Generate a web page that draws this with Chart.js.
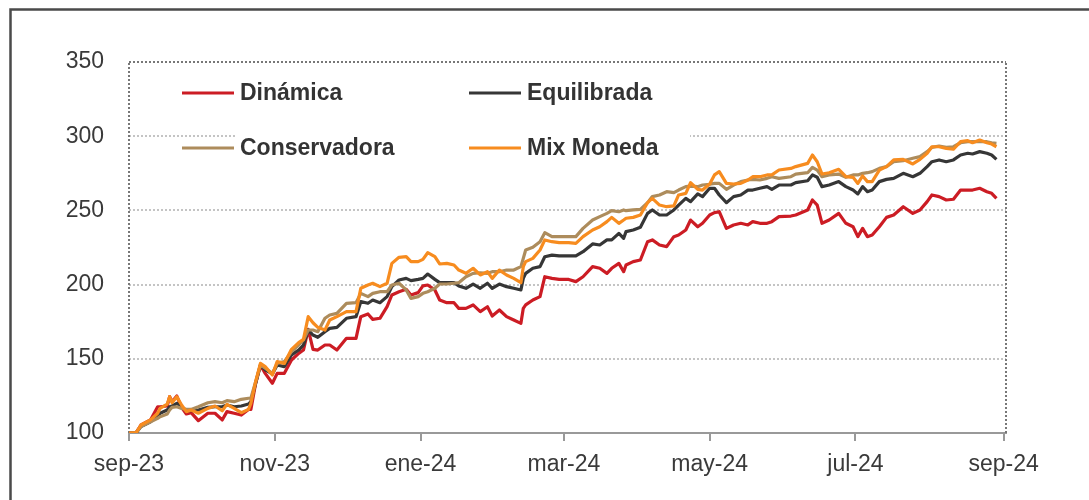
<!DOCTYPE html>
<html>
<head>
<meta charset="utf-8">
<script src="https://cdn.jsdelivr.net/npm/chart.js@4.4.1/dist/chart.umd.min.js"></script>
<style>
  html, body { margin: 0; padding: 0; background: #fff; }
  canvas { display: block; }
</style>
</head>
<body>
<canvas id="chart" width="1089" height="500"></canvas>
<script>
/* Rentabilidad acumulada por estrategia, base 100 = sep-23 */

// días desde el 1-sep-2023
const days = [
  0, 3, 5, 9, 12, 13, 16, 17, 18, 20, 22, 24, 26, 29, 33, 36, 39, 41, 44, 47, 50, 51, 53, 55, 57, 60, 62, 65, 68, 71, 73, 75, 77, 79, 82, 84, 87,
  91, 95, 97, 100, 102, 105, 108, 110, 113, 116, 118, 121, 123, 125, 128, 130, 133, 136, 138, 141, 144, 147, 150, 152, 155, 158, 161, 164, 165, 166, 169, 172, 174, 177,
  180, 184, 187, 190, 194, 197, 200, 202, 205, 207, 208, 211, 214, 217, 219, 222, 225, 228, 230, 233, 235, 238, 240, 243, 245, 247, 250, 253, 256, 259, 261, 264, 267, 269,
  272, 277, 279, 284, 286, 288, 290, 293, 297, 300, 303, 305, 307, 309, 311, 314, 317, 320, 324, 328, 331, 334, 336, 339, 342, 345, 348, 351, 353, 356, 359, 361, 363
];

const dinamica = [
  100, 100.2, 105.4, 108.8, 117.7, 117.7, 118.2, 124.5, 121.1, 124.9, 117.3, 112.8, 113.7, 108.3, 113.3, 113.3, 108.8, 114.4, 113.3, 112.1, 115.9, 115.9, 133.5, 145.8, 140.2, 133.5, 140.2, 140.2, 149.2, 153.7, 155.9, 169.9, 156.4, 155.9, 159.3, 159.3, 155.9,
  163.8, 163.8, 178.4, 180.2, 176.6, 177.3, 185.1, 193.0, 195.2, 196.8, 193.0, 194.6, 199.1, 199.7, 196.4, 189.6, 187.8, 187.8, 184.0, 184.0, 186.3, 181.8, 185.1, 178.8, 182.9, 178.4, 176.1, 173.9, 184.0, 186.3, 189.6, 191.9, 205.3, 204.2,
  203.5, 203.5, 202.0, 205.3, 212.1, 211.0, 207.6, 211.0, 214.3, 208.7, 213.2, 215.5, 216.6, 228.9, 230.1, 226.7, 225.6, 232.3, 233.4, 236.8, 243.5, 239.0, 241.3, 246.9, 248.5, 249.1, 237.9, 240.2, 241.3, 240.2, 242.4, 241.3, 241.3, 242.4,
  245.8, 246.2, 246.9, 250.3, 257.0, 253.6, 241.3, 243.5, 248.0, 241.3, 239.0, 232.3, 237.9, 232.3, 233.4, 239.0, 245.3, 246.9, 252.5, 248.0, 250.3, 255.9, 260.4, 259.3, 257.0, 257.5, 263.7, 263.7, 263.7, 264.9, 262.6, 261.5, 258.1
];

const equilibrada = [
  100, 100.2, 104.3, 107.6, 111.0, 113.3, 115.5, 117.7, 118.2, 120.0, 117.7, 115.0, 115.0, 115.5, 117.3, 117.7, 117.7, 118.9, 117.7, 118.2, 119.5, 121.1, 133.5, 145.8, 142.5, 139.8, 145.8, 144.7, 152.6, 155.9, 159.3, 169.4, 166.0, 164.5, 168.3, 170.5, 171.2,
  177.3, 178.4, 188.5, 187.4, 189.6, 187.8, 191.9, 198.6, 203.1, 204.2, 202.7, 203.5, 204.2, 207.1, 203.5, 201.3, 201.3, 201.3, 199.1, 197.5, 200.4, 197.5, 200.9, 197.5, 200.4, 198.6, 197.5, 196.4, 204.2, 207.6, 211.0, 212.1, 218.8, 219.9,
  219.3, 219.3, 219.3, 222.2, 227.4, 226.7, 230.1, 230.1, 234.5, 231.2, 235.7, 236.8, 238.6, 248.0, 250.3, 246.9, 246.9, 250.3, 253.6, 258.1, 255.9, 261.1, 259.3, 264.9, 264.9, 260.4, 255.2, 259.3, 260.4, 263.7, 263.7, 264.9, 266.0, 264.2,
  267.1, 267.1, 268.7, 270.0, 273.9, 272.3, 266.0, 267.1, 269.4, 266.0, 263.7, 261.1, 266.0, 262.6, 263.7, 269.4, 270.9, 271.6, 275.0, 272.7, 275.0, 279.5, 282.8, 284.0, 282.8, 284.0, 287.3, 288.5, 288.0, 289.6, 288.5, 287.3, 284.4
];

const conservadora = [
  100, 100.2, 104.3, 107.6, 109.9, 111.0, 112.8, 115.5, 117.3, 117.7, 116.6, 115.9, 115.9, 117.7, 120.4, 121.1, 120.4, 121.8, 121.1, 122.7, 123.4, 123.4, 134.6, 145.8, 143.6, 140.2, 146.9, 148.1, 154.8, 159.3, 162.7, 169.4, 169.4, 168.3, 177.3, 179.5, 180.6,
  187.4, 187.8, 194.1, 191.9, 194.1, 195.2, 195.2, 199.7, 200.9, 196.4, 190.7, 191.9, 194.1, 195.2, 197.5, 200.4, 200.4, 200.9, 201.3, 205.3, 207.6, 208.0, 207.6, 208.7, 208.7, 209.8, 209.8, 212.1, 217.7, 223.3, 225.1, 228.9, 235.0, 232.3,
  232.3, 232.3, 232.3, 237.9, 243.5, 245.8, 248.0, 249.8, 249.1, 250.3, 249.8, 250.3, 250.7, 255.2, 259.3, 260.4, 262.6, 262.0, 263.7, 266.0, 266.4, 266.0, 267.1, 267.6, 268.2, 268.2, 264.2, 267.1, 269.4, 270.5, 270.9, 270.5, 271.6, 272.7,
  271.6, 272.7, 274.5, 275.4, 279.0, 277.2, 272.7, 273.9, 274.5, 272.3, 273.9, 273.9, 275.0, 275.4, 276.1, 278.3, 279.5, 282.8, 283.5, 285.1, 286.2, 289.6, 292.5, 293.4, 292.5, 292.9, 295.6, 296.3, 296.3, 296.3, 296.3, 295.6, 295.2
];

const mixMoneda = [
  100, 100.2, 105.4, 108.8, 113.3, 116.6, 119.5, 124.5, 120.4, 124.5, 118.9, 114.4, 115.5, 113.3, 116.6, 118.2, 115.0, 119.3, 116.6, 113.7, 115.9, 120.0, 134.6, 146.9, 144.7, 139.1, 148.1, 146.9, 156.4, 160.9, 163.1, 178.4, 174.3, 171.2, 169.4, 176.1, 178.4,
  181.8, 181.8, 197.5, 199.7, 200.9, 198.6, 200.9, 214.3, 218.4, 218.8, 215.5, 215.5, 217.0, 221.5, 218.8, 213.9, 214.3, 213.2, 209.8, 207.6, 211.0, 206.5, 208.7, 204.2, 209.8, 206.5, 204.2, 201.3, 212.1, 215.5, 217.7, 223.3, 230.1, 228.9,
  228.3, 228.3, 227.8, 232.3, 236.8, 239.0, 242.4, 245.3, 241.3, 243.5, 244.7, 245.3, 246.9, 255.2, 258.1, 253.6, 252.5, 253.0, 260.4, 261.5, 268.7, 264.2, 263.7, 267.8, 273.9, 276.1, 268.2, 267.8, 268.2, 270.5, 272.7, 272.7, 273.9, 273.9,
  277.2, 278.3, 279.5, 281.7, 287.3, 282.8, 274.5, 275.4, 277.7, 272.7, 272.3, 268.2, 273.2, 269.4, 269.4, 277.2, 279.5, 284.0, 284.4, 281.3, 284.4, 288.5, 292.9, 292.9, 291.8, 291.2, 296.3, 297.0, 295.6, 297.4, 295.6, 294.7, 292.9
];

const tickDays = [0, 61, 122, 182, 243, 304, 366];
const tickLabels = ["sep-23", "nov-23", "ene-24", "mar-24", "may-24", "jul-24", "sep-24"];

const SERIES = [
  { label: "Dinámica", data: dinamica, color: "#cc1c24", order: 3 },
  { label: "Equilibrada", data: equilibrada, color: "#363636", order: 2 },
  { label: "Conservadora", data: conservadora, color: "#ad8c5c", order: 1 },
  { label: "Mix Moneda", data: mixMoneda, color: "#f78c1f", order: 0 },
];

const FONT = "'Liberation Sans', Arial, sans-serif";
const TEXT = "#3a3a3a";

/* marco exterior, bordes punteados y leyenda 2x2 */
const decor = {
  id: "decor",
  beforeDraw(chart) {
    const { ctx, width, height } = chart;
    ctx.save();
    ctx.fillStyle = "#fff";
    ctx.fillRect(0, 0, width, height);
    ctx.strokeStyle = "#4a4a4a";
    ctx.lineWidth = 2.5;
    ctx.beginPath();
    ctx.moveTo(10.5, height);
    ctx.lineTo(10.5, 9.5);
    ctx.lineTo(width, 9.5);
    ctx.stroke();
    ctx.restore();
  },
  beforeDatasetsDraw(chart) {
    const { ctx, chartArea: a } = chart;
    ctx.save();
    ctx.strokeStyle = "#777";
    ctx.lineWidth = 2;
    ctx.setLineDash([2, 2]);
    ctx.beginPath();
    ctx.moveTo(a.left, a.bottom);
    ctx.lineTo(a.left, a.top);
    ctx.moveTo(a.right, a.bottom);
    ctx.lineTo(a.right, a.top);
    ctx.stroke();
    ctx.restore();
  },
  afterDatasetsDraw(chart) {
    const ctx = chart.ctx;
    const cols = [182, 469];
    const rows = [93, 148];
    ctx.save();
    ctx.fillStyle = "#fff";
    ctx.fillRect(237, 78, 453, 84);
    ctx.font = "bold 23px " + FONT;
    ctx.textBaseline = "middle";
    SERIES.forEach((s, i) => {
      const x = cols[i % 2], y = rows[Math.floor(i / 2)];
      ctx.strokeStyle = s.color;
      ctx.lineWidth = 3;
      ctx.beginPath();
      ctx.moveTo(x, y);
      ctx.lineTo(x + 52, y);
      ctx.stroke();
      ctx.fillStyle = "#333";
      ctx.fillText(s.label, x + 58, y + 1);
    });
    ctx.restore();
  },
};

new Chart(document.getElementById("chart"), {
  type: "line",
  data: {
    datasets: SERIES.map((s) => ({
      label: s.label,
      data: days.map((d, i) => ({ x: d, y: s.data[i] })),
      borderColor: s.color,
      backgroundColor: s.color,
      borderWidth: 3.2,
      pointRadius: 0,
      tension: 0,
      order: s.order,
      borderJoinStyle: "round",
    })),
  },
  options: {
    responsive: false,
    animation: false,
    layout: { padding: { left: 0, top: 62, right: 83, bottom: 7 } },
    scales: {
      x: {
        type: "linear",
        min: 0,
        max: 367,
        afterFit: (s) => { s.height = 60; },
        afterBuildTicks: (s) => { s.ticks = tickDays.map((v) => ({ value: v })); },
        grid: { drawOnChartArea: false, drawTicks: true, tickLength: 8, color: "#999", lineWidth: 2 },
        border: { display: true, color: "#999", width: 2 },
        ticks: {
          padding: 10,
          color: TEXT,
          font: { family: FONT, size: 23 },
          maxRotation: 0,
          callback: (v, i) => tickLabels[i],
        },
      },
      y: {
        min: 100,
        max: 350,
        afterFit: (s) => { s.width = 129; },
        grid: {
          drawTicks: false,
          lineWidth: 2,
          color: (c) => c.tick.value === 350 ? "#777" : c.tick.value === 100 ? "rgba(0,0,0,0)" : "#c4c4c4",
        },
        border: { display: false, dash: [2, 2] },
        ticks: {
          stepSize: 50,
          padding: 25,
          color: TEXT,
          font: { family: FONT, size: 23 },
        },
      },
    },
    plugins: {
      legend: { display: false },
      tooltip: { enabled: false },
    },
  },
  plugins: [decor],
});
</script>
</body>
</html>
